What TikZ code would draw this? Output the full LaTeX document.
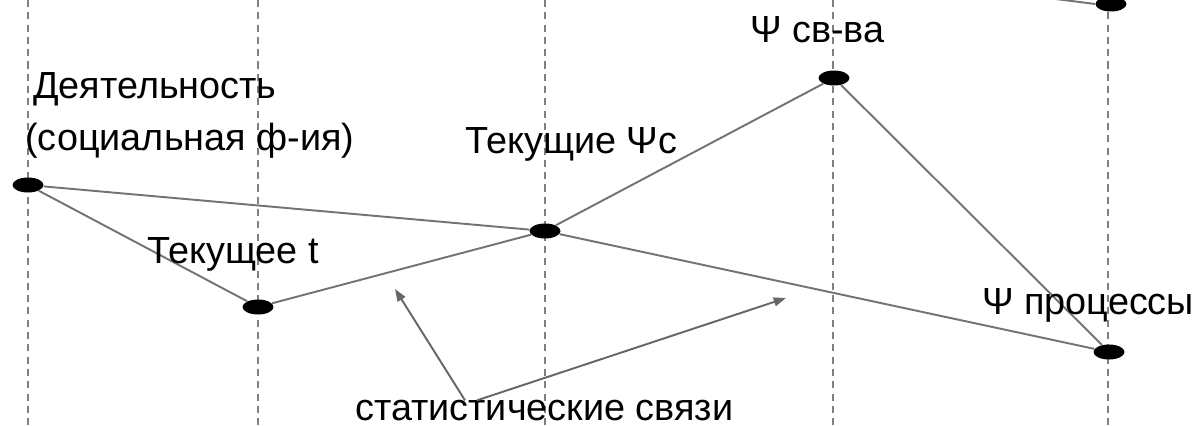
\documentclass[tikz,border=0pt]{standalone}
\usepackage{fontspec}
\setmainfont{Liberation Sans}
\usetikzlibrary{arrows.meta,shapes.geometric,calc}

\begin{document}
\begin{tikzpicture}[x=0.02cm, y=-0.02cm,
    every node/.style={font=\fontsize{21.5}{25}\selectfont},
    dot/.style={ellipse, fill=black, inner sep=0pt, minimum width=0.62cm, minimum height=0.3cm},
    lbl/.style={anchor=base west, inner sep=0pt},
    link/.style={black!55, line width=1.1pt},
    guide/.style={black!50, line width=1.2pt, dash pattern=on 4pt off 3pt},
    pointer/.style={black!60, line width=1.1pt, -{Triangle[length=7pt,width=5pt]}}]
      \useasboundingbox (0,0) rectangle (1201,426);
      \clip (0,0) rectangle (1201,426);
      % Dashed guides
      \foreach \x in {28,258,545,833,1108} {
        \draw[guide] (\x,0) -- (\x,426);
      }
      % Points
      \node[dot] (act) at (28,185) {};
      \node[dot] (tnow) at (258,307) {};
      \node[dot] (cur) at (545,231) {};
      \node[dot] (prop) at (834,78) {};
      \node[dot] (proc) at (1109,352) {};
      \node[dot] (topdot) at (1111,4) {};
      \coordinate (offtop) at (1040,-3);
      % Links
      \draw[link] (act) -- (cur);
      \draw[link] (act) -- (tnow);
      \draw[link] (tnow) -- (cur);
      \draw[link] (cur) -- (prop);
      \draw[link] (prop) -- (proc);
      \draw[link] (cur) -- (proc);
      \draw[link] (offtop) -- (topdot.west);
      % Labels
      \node[lbl] (lblact) at (33,98) {Деятельность};
      \node[lbl] (lblfunc) at (25,150) {(социальная ф-ия)};
      \node[lbl] (lblcur) at (465,153) {Текущие Ψс};
      \node[lbl] (lbltnow) at (147,263) {Текущее t};
      \node[lbl] (lblprop) at (750,42) {Ψ св-ва};
      \node[lbl] (lblproc) at (982,314) {Ψ процессы};
      \node[lbl] (stat) at (355,420) {статистические связи};
      % Pointers
      \coordinate (tipl) at (395,289);
      \coordinate (tipr) at (786,298);
      \draw[pointer] ($(stat.north west)+(110,1)$) -- (tipl);
      \draw[pointer] ($(stat.north west)+(122,1)$) -- (tipr);
\end{tikzpicture}
\end{document}
